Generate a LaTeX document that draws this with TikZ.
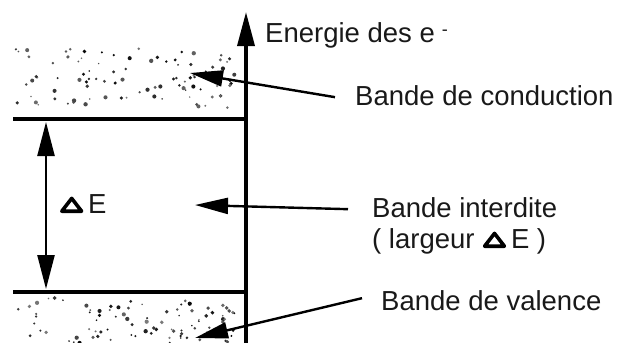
\documentclass[tikz,border=0pt]{standalone}
\usepackage{fontspec}
\setmainfont{Liberation Sans}
\usetikzlibrary{arrows.meta,calc}
\tikzset{
  lbl/.style={inner sep=0pt, anchor=base west, text=black!90, font=\fontsize{27.5}{32}\selectfont},
  thickline/.style={line width=3.5pt},
  pointer/.style={line width=2.4pt, -{Triangle[length=33pt,width=16pt]}},
  deltatri/.pic={\draw[line width=3.6pt, line join=round] (1.8,-1.8) -- (21.6,-1.8) -- (11.7,-14.6) -- cycle;},
}
\begin{document}
\begin{tikzpicture}[x=1pt,y=-1pt]
\useasboundingbox (0,0) rectangle (622,343);
% stippled bands
\pgfmathsetseed{4711}
\foreach \i in {1,...,95}{
  \pgfmathsetmacro{\px}{15+220*rnd}
  \pgfmathsetmacro{\py}{47+62*rnd}
  \pgfmathsetmacro{\pr}{0.8+1.4*rnd}
  \pgfmathsetmacro{\pg}{50+48*rnd}
  \fill[black!\pg] (\px,\py) circle[radius=\pr];
}
\foreach \i in {1,...,90}{
  \pgfmathsetmacro{\px}{15+220*rnd}
  \pgfmathsetmacro{\py}{298+45*rnd}
  \pgfmathsetmacro{\pr}{0.8+1.4*rnd}
  \pgfmathsetmacro{\pg}{50+48*rnd}
  \fill[black!\pg] (\px,\py) circle[radius=\pr];
}
% coordinates
\coordinate (axisbot) at (246,345);
\coordinate (axistop) at (246,12);
\coordinate (cbL) at (13,119);
\coordinate (cbR) at (246,119);
\coordinate (vbL) at (13,292);
\coordinate (vbR) at (246,292);
\coordinate (gapTop) at (46,122);
\coordinate (gapBot) at (46,289);
\coordinate (condTip) at (190,73);
\coordinate (gapTip) at (195,205);
\coordinate (valTip) at (195,338);
% band edges and axis
\draw[thickline] (cbL) -- (cbR);
\draw[thickline] (vbL) -- (vbR);
\draw[thickline, -{Triangle[length=34pt,width=17pt]}] (axisbot) -- (axistop);
\draw[line width=2.4pt, {Triangle[length=34pt,width=17pt]}-{Triangle[length=34pt,width=17pt]}] (gapTop) -- (gapBot);
% labels
\node[lbl] (energie) at (265,42) {Energie des e\hspace{7pt}\raisebox{6.5pt}{\fontsize{18}{18}\selectfont -}};
\node[lbl] (cond) at (355,105) {Bande de conduction};
\node[lbl] (interd) at (372,217) {Bande interdite};
\node[lbl] (larg1) at (372,248) {( largeur};
\pic at ($(larg1.base east)+(8,0)$) {deltatri};
\node[lbl] (larg2) at ($(larg1.base east)+(36,0)$) {E )};
\node[lbl] (val) at (381,310) {Bande de valence};
\pic at (60,213) {deltatri};
\node[lbl] (dE) at (88,213) {E};
% pointers
\draw[pointer] ([xshift=-20pt,yshift=-2pt]cond.west) -- (condTip);
\draw[pointer] ([xshift=-24pt,yshift=-2pt]interd.west) -- (gapTip);
\draw[pointer] ([xshift=-19pt,yshift=2pt]val.west) -- (valTip);
\end{tikzpicture}
\end{document}
